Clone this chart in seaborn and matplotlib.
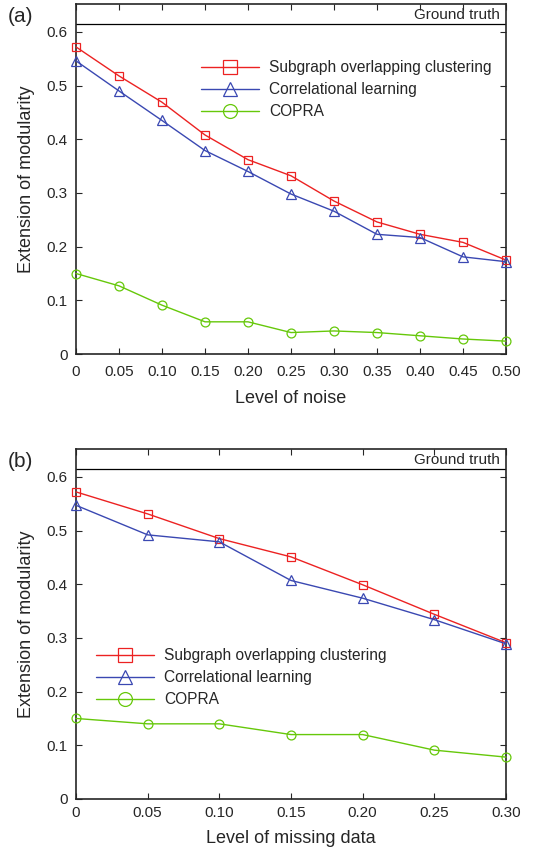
import pandas as pd
import matplotlib
matplotlib.use("Agg")
import matplotlib.pyplot as plt
import seaborn as sns
from matplotlib.lines import Line2D

# --- data ---
methods = ["Subgraph overlapping clustering", "Correlational learning", "COPRA"]

noise_levels = [0, 0.05, 0.10, 0.15, 0.20, 0.25, 0.30, 0.35, 0.40, 0.45, 0.50]
noise_labels = ["0", "0.05", "0.10", "0.15", "0.20", "0.25", "0.30", "0.35", "0.40", "0.45", "0.50"]
noise_soc = [0.572, 0.518, 0.469, 0.408, 0.362, 0.332, 0.285, 0.246, 0.223, 0.208, 0.175]
noise_cl = [0.546, 0.490, 0.435, 0.379, 0.340, 0.298, 0.266, 0.223, 0.217, 0.181, 0.172]
noise_copra = [0.150, 0.127, 0.091, 0.060, 0.060, 0.040, 0.043, 0.040, 0.034, 0.028, 0.024]

missing_levels = [0, 0.05, 0.10, 0.15, 0.20, 0.25, 0.30]
missing_labels = ["0", "0.05", "0.10", "0.15", "0.20", "0.25", "0.30"]
missing_soc = [0.572, 0.531, 0.485, 0.451, 0.399, 0.344, 0.291]
missing_cl = [0.547, 0.492, 0.479, 0.407, 0.374, 0.334, 0.289]
missing_copra = [0.150, 0.140, 0.140, 0.120, 0.120, 0.091, 0.078]

ground_truth = 0.615
yticks = [0, 0.1, 0.2, 0.3, 0.4, 0.5, 0.6]
ytick_labels = ["0", "0.1", "0.2", "0.3", "0.4", "0.5", "0.6"]

colors = {methods[0]: "#ec2222", methods[1]: "#3a48b2", methods[2]: "#66c80a"}
markers = {methods[0]: "s", methods[1]: "^", methods[2]: "o"}
marker_sizes = {"s": 6.2, "^": 7.0, "o": 6.4}

sns.set_style("ticks")
plt.rcParams["font.family"] = ["Liberation Sans", "DejaVu Sans"]


def long_frame(levels, soc, cl, copra):
    rows = []
    for m, vals in zip(methods, [soc, cl, copra]):
        for x, v in zip(levels, vals):
            rows.append({"level": x, "value": v, "method": m})
    return pd.DataFrame(rows)


def draw_panel(ax, df, xmax, xticks, xlabels, xlabel, tag, legend_loc, xpad):
    for m in methods:
        sub = df[df["method"] == m]
        sns.lineplot(data=sub, x="level", y="value", ax=ax, color=colors[m],
                     marker=markers[m], markersize=marker_sizes[markers[m]], mfc="none",
                     mec=colors[m], mew=0.9, linewidth=1.0, clip_on=False, zorder=3)
    ax.axhline(ground_truth, color="black", linewidth=0.9)
    ax.text(0.985 * xmax, ground_truth + 0.004, "Ground truth", ha="right", va="bottom", fontsize=11)
    ax.set_xlim(0, xmax)
    ax.set_ylim(0, 0.652)
    ax.set_xticks(xticks)
    ax.set_xticklabels(xlabels)
    ax.set_yticks(yticks)
    ax.set_yticklabels(ytick_labels)
    ax.tick_params(direction="in", top=True, right=True, labelsize=11, length=4, width=0.8)
    ax.tick_params(axis="x", pad=xpad)
    ax.tick_params(axis="y", pad=6)
    for s in ax.spines.values():
        s.set_linewidth(1.2)
    ax.set_xlabel(xlabel, fontsize=13, labelpad=7.5)
    ax.set_ylabel("Extension of modularity", fontsize=13, labelpad=8)
    ax.text(-0.158, 0.992, tag, transform=ax.transAxes, fontsize=15, va="top", ha="left")
    handles = [Line2D([0], [0], color=colors[m], marker=markers[m], markersize=10, mfc="none",
                      mec=colors[m], mew=0.9, linewidth=1.0) for m in methods]
    ax.legend(handles, methods, loc="upper left", bbox_to_anchor=legend_loc, frameon=False,
              fontsize=11.2, handlelength=3.7, handletextpad=0.7, labelspacing=0.45)


fig = plt.figure(figsize=(5.38, 8.49), dpi=100)
ax1 = fig.add_axes([0.1413, 0.583, 0.7992, 0.4123])
ax2 = fig.add_axes([0.1413, 0.0589, 0.7992, 0.4123])

draw_panel(ax1, long_frame(noise_levels, noise_soc, noise_cl, noise_copra), 0.5,
           noise_levels, noise_labels, "Level of noise", "(a)", (0.258, 0.879), 8)
draw_panel(ax2, long_frame(missing_levels, missing_soc, missing_cl, missing_copra), 0.3,
           missing_levels, missing_labels, "Level of missing data", "(b)", (0.014, 0.47), 5)

fig.savefig("out.png", dpi=100)
